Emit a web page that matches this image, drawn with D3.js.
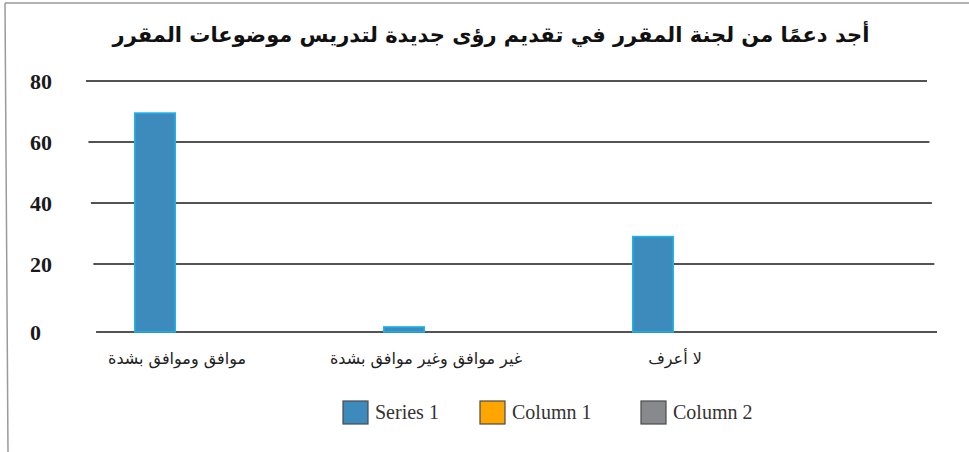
<!DOCTYPE html>
<html>
<head>
<meta charset="utf-8">
<script src="https://cdn.jsdelivr.net/npm/d3@7"></script>
<style>
	body { margin: 0; background: #fff; }
	svg { display: block; }
</style>
</head>
<body>
<script>
'use strict';

// Chart data.
const title = "أجد دعمًا من لجنة المقرر في تقديم رؤى جديدة لتدريس موضوعات المقرر";
const categories = ["موافق وموافق بشدة", "غير موافق وغير موافق بشدة", "لا أعرف"];
const seriesNames = ["Series 1", "Column 1", "Column 2"];
const series1 = [69.5, 1.5, 29];
const column1 = [0, 0, 0];
const column2 = [0, 0, 0];
const yTicks = [0, 20, 40, 60, 80];
const seriesColors = ["#3d8bbd", "#ffa500", "#87898c"];

const width = 969, height = 452;

let svg = d3.select("body").append("svg")
	.attr("width", width)
	.attr("height", height);

// Frame (the scan is slightly tilted, so the left edge leans a little).
svg.append("path")
	.attr("d", "M5,3 L969,3 M5,3 L8,452")
	.attr("stroke", "#9a9a9a")
	.attr("stroke-width", 1.5)
	.attr("fill", "none");

// Title
svg.append("text")
	.attr("x", 491)
	.attr("y", 42)
	.attr("text-anchor", "middle")
	.attr("direction", "rtl")
	.style("font-family", "'DejaVu Sans', sans-serif")
	.style("font-weight", "bold")
	.style("font-size", "21px")
	.attr("fill", "#111")
	.text(title);

// The printed axis is not quite linear, so a piecewise scale follows it.
let y = d3.scaleLinear()
	.domain([0, 20, 80])
	.range([332, 264, 81]);

// Small shear to follow the tilt of the gridlines.
function shear(py)
{
	return (py - 81) * 0.04;
}

let x = d3.scaleBand()
	.domain(categories)
	.range([134, 758])
	.paddingInner(0.494)
	.paddingOuter(0);

let xs = d3.scaleBand()
	.domain(seriesNames)
	.range([0, x.bandwidth()]);

// Gridlines
svg.append("g")
	.selectAll("line")
	.data(yTicks)
	.enter()
	.append("line")
	.attr("x1", d => 86 + shear(y(d)))
	.attr("x2", d => 927 + shear(y(d)))
	.attr("y1", d => y(d))
	.attr("y2", d => y(d))
	.attr("stroke", "#1a1a1a")
	.attr("stroke-width", 1.6);

// Y tick labels
svg.append("g")
	.selectAll("text")
	.data(yTicks)
	.enter()
	.append("text")
	.attr("x", 30)
	.attr("y", d => y(d) + 8)
	.style("font-family", "'Liberation Serif', serif")
	.style("font-weight", "bold")
	.style("font-size", "22px")
	.attr("fill", "#1a1a1a")
	.text(d => d);

// Bars
let rows = categories.map(function(c, i) {
	return [series1[i], column1[i], column2[i]];
});

let groups = svg.append("g")
	.selectAll("g")
	.data(rows)
	.enter()
	.append("g")
	.attr("transform", (d, i) => "translate(" + x(categories[i]) + ",0)");

groups.selectAll("rect")
	.data(d => d.map((v, j) => ({ value: v, name: seriesNames[j], color: seriesColors[j] })))
	.enter()
	.filter(d => d.value > 0)
	.append("rect")
	.attr("x", d => xs(d.name) + 0.75)
	.attr("y", d => y(d.value))
	.attr("width", xs.bandwidth() - 1.5)
	.attr("height", d => y(0) - y(d.value))
	.attr("fill", d => d.color)
	.attr("stroke", "#1db4ec")
	.attr("stroke-width", 1.5);

// Category labels
svg.append("g")
	.selectAll("text")
	.data(categories)
	.enter()
	.append("text")
	.attr("x", d => x(d) + xs.bandwidth() / 2 + 22)
	.attr("y", 364)
	.attr("text-anchor", "middle")
	.attr("direction", "rtl")
	.style("font-family", "'DejaVu Sans', sans-serif")
	.style("font-size", "16px")
	.attr("fill", "#222")
	.text(d => d);

// Legend
let legendX = [343, 480, 641];
let legend = svg.append("g")
	.selectAll("g")
	.data(seriesNames)
	.enter()
	.append("g")
	.attr("transform", (d, i) => "translate(" + legendX[i] + ",401)");

legend.append("rect")
	.attr("width", 25)
	.attr("height", 23)
	.attr("fill", (d, i) => seriesColors[i])
	.attr("stroke", "#4a4a4a")
	.attr("stroke-width", 1.2);

legend.append("text")
	.attr("x", 32)
	.attr("y", 18)
	.style("font-family", "'Liberation Serif', serif")
	.style("font-size", "20px")
	.attr("fill", "#333")
	.text(d => d);
</script>
</body>
</html>
